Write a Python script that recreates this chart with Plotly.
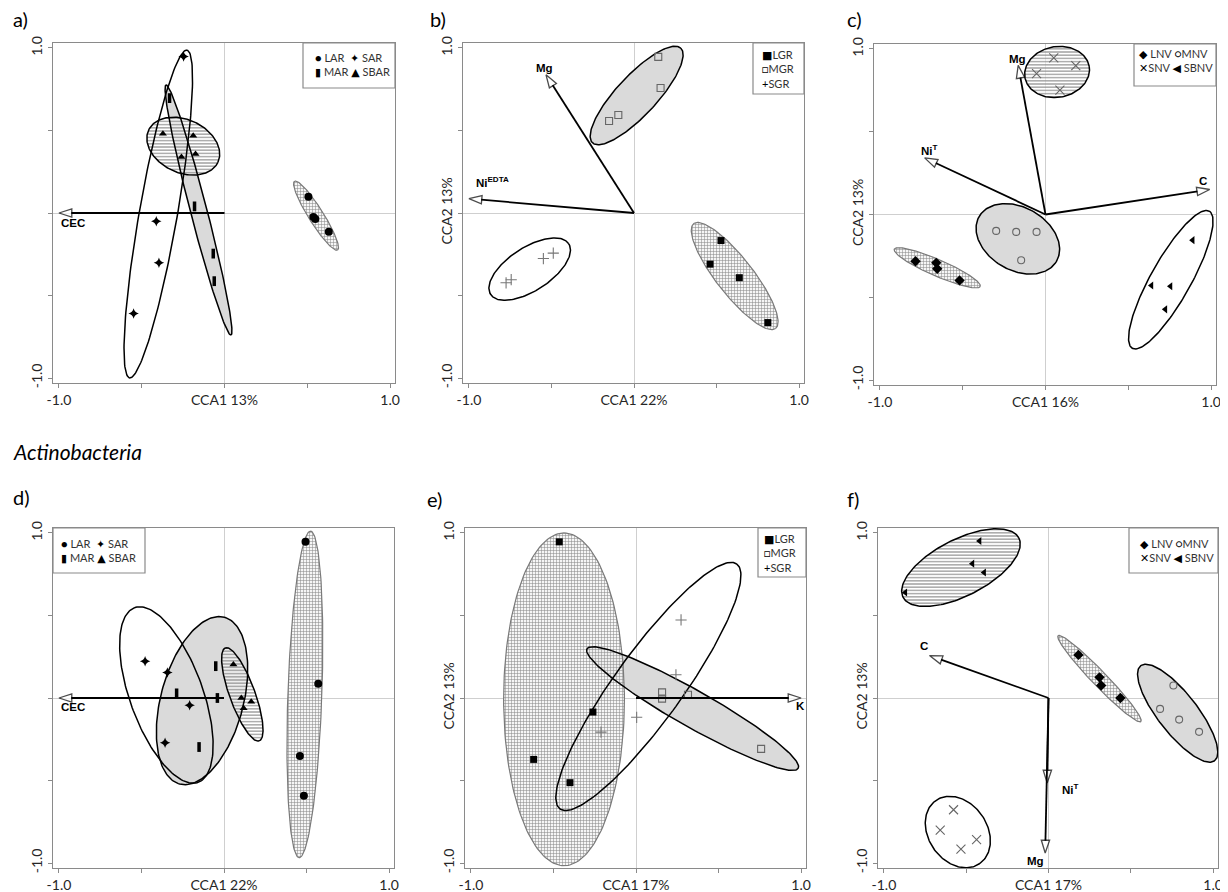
import numpy as np
import plotly.graph_objects as go

# the page body keeps an 8px margin, so the figure is drawn 8px smaller and
# every pixel position below is measured in the 1228x892 window
OFF = 8
W, H = 1228 - OFF, 892 - OFF

# ---------------- data (CCA scores) ----------------
# a)
a_LAR_x = [0.507, 0.537, 0.549, 0.630];   a_LAR_y = [0.099, -0.024, -0.036, -0.113]
a_MAR_x = [-0.332, -0.181, -0.068, -0.062]; a_MAR_y = [0.696, 0.040, -0.246, -0.413]
a_SAR_x = [-0.247, -0.412, -0.396, -0.549]; a_SAR_y = [0.948, -0.050, -0.302, -0.609]
a_SBAR_x = [-0.372, -0.189, -0.260, -0.175]; a_SBAR_y = [0.480, 0.468, 0.339, 0.357]
# ellipses: centre x, centre y, semi-major, semi-minor, angle (deg)
a_LAR_ell = [0.553, -0.016, 0.246, 0.045, -58]
a_MAR_ell = [-0.157, 0.018, 0.783, 0.050, -75.5]
a_SAR_ell = [-0.400, -0.006, 1.008, 0.115, 80.1]
a_SBAR_ell = [-0.249, 0.405, 0.231, 0.161, -25]
a_vec_names = ["CEC"]; a_vec_x = [-1.0]; a_vec_y = [0.0]
a_lab_x = [-0.916]; a_lab_y = [-0.062]

# b)
b_LGR_x = [0.527, 0.461, 0.638, 0.811];   b_LGR_y = [-0.167, -0.310, -0.392, -0.664]
b_MGR_x = [0.147, 0.161, -0.151, -0.095]; b_MGR_y = [0.946, 0.757, 0.557, 0.594]
b_SGR_x = [-0.775, -0.744, -0.549, -0.489]; b_SGR_y = [-0.423, -0.404, -0.276, -0.243]
b_LGR_ell = [0.610, -0.382, 0.403, 0.111, -52]
b_MGR_ell = [0.016, 0.712, 0.392, 0.121, 47]
b_SGR_ell = [-0.632, -0.340, 0.282, 0.131, 33]
b_vec_names = ["Mg", "Ni<sup>EDTA</sup>"]; b_vec_x = [-0.533, -1.0]; b_vec_y = [0.837, 0.087]
b_lab_x = [-0.541, -0.860]; b_lab_y = [0.881, 0.185]

# c)
c_LNV_x = [-0.785, -0.660, -0.654, -0.519]; c_LNV_y = [-0.282, -0.292, -0.328, -0.398]
c_MNV_x = [-0.298, -0.177, -0.054, -0.147]; c_MNV_y = [-0.099, -0.105, -0.105, -0.276]
c_SNV_x = [0.050, 0.183, -0.054, 0.087];    c_SNV_y = [0.946, 0.899, 0.851, 0.751]
c_SBNV_x = [0.889, 0.640, 0.755, 0.724];    c_SBNV_y = [-0.155, -0.429, -0.433, -0.573]
c_LNV_ell = [-0.654, -0.322, 0.283, 0.050, -23.5]
c_MNV_ell = [-0.167, -0.147, 0.270, 0.190, -30]
c_SNV_ell = [0.070, 0.861, 0.197, 0.153, 10]
c_SBNV_ell = [0.757, -0.394, 0.475, 0.121, 60.7]
c_vec_names = ["Mg", "Ni<sup>T</sup>", "C"]
c_vec_x = [-0.165, -0.730, 0.992]; c_vec_y = [0.901, 0.342, 0.151]
c_lab_x = [-0.169, -0.700, 0.950]; c_lab_y = [0.942, 0.392, 0.203]

# d)
d_LAR_x = [0.494, 0.571, 0.460, 0.484];   d_LAR_y = [0.947, 0.086, -0.352, -0.593]
d_MAR_x = [-0.050, -0.287, -0.040, -0.151]; d_MAR_y = [0.193, 0.028, 0.0, -0.297]
d_SAR_x = [-0.478, -0.343, -0.208, -0.357]; d_SAR_y = [0.223, 0.155, -0.044, -0.271]
d_SBAR_x = [0.057, 0.105, 0.165, 0.119];    d_SBAR_y = [0.203, 0.0, -0.022, -0.062]
d_LAR_ell = [0.490, 0.022, 0.990, 0.103, 88]
d_MAR_ell = [-0.133, -0.016, 0.523, 0.250, 75]
d_SAR_ell = [-0.349, 0.018, 0.563, 0.221, 110]
d_SBAR_ell = [0.111, 0.022, 0.300, 0.077, 110]
d_vec_names = ["CEC"]; d_vec_x = [-1.0]; d_vec_y = [0.0]
d_lab_x = [-0.916]; d_lab_y = [-0.055]

# e)
e_LGR_x = [-0.465, -0.261, -0.620, -0.400]; e_LGR_y = [0.946, -0.085, -0.372, -0.513]
e_MGR_x = [0.158, 0.158, 0.315, 0.758];     e_MGR_y = [0.034, -0.004, 0.020, -0.308]
e_SGR_x = [0.273, 0.242, 0.004, -0.212];    e_SGR_y = [0.473, 0.141, -0.117, -0.207]
e_LGR_ell = [-0.436, -0.008, 1.008, 0.366, 90]
e_MGR_ell = [0.343, -0.064, 0.735, 0.111, -29.5]
e_SGR_ell = [0.075, 0.070, 0.915, 0.206, 54.2]
e_vec_names = ["K"]; e_vec_x = [1.0]; e_vec_y = [0.0]
e_lab_x = [0.995]; e_lab_y = [-0.05]

# f)
f_LNV_x = [0.182, 0.310, 0.320, 0.437];    f_LNV_y = [0.261, 0.125, 0.076, 0.0]
f_MNV_x = [0.759, 0.678, 0.794, 0.915];    f_MNV_y = [0.076, -0.066, -0.131, -0.205]
f_SNV_x = [-0.577, -0.658, -0.437, -0.532]; f_SNV_y = [-0.677, -0.800, -0.858, -0.915]
f_SBNV_x = [-0.419, -0.462, -0.391, -0.870]; f_SBNV_y = [0.951, 0.814, 0.760, 0.639]
f_LNV_ell = [0.310, 0.117, 0.362, 0.045, -46]
f_MNV_ell = [0.785, -0.092, 0.365, 0.120, -52]
f_SNV_ell = [-0.551, -0.812, 0.233, 0.178, -55]
f_SBNV_ell = [-0.532, 0.790, 0.395, 0.171, 27]
f_vec_names = ["C", "Ni<sup>T</sup>", "Mg"]
f_vec_x = [-0.723, -0.008, -0.020]; f_vec_y = [0.257, -0.515, -0.939]
f_lab_x = [-0.757, 0.135, -0.081]; f_lab_y = [0.314, -0.553, -0.985]

axis_pct_x = ["CCA1 13%", "CCA1 22%", "CCA1 16%", "CCA1 22%", "CCA1 17%", "CCA1 17%"]
axis_pct_y = ["", "CCA2 13%", "CCA2 13%", "", "CCA2 13%", "CCA2 13%"]
panel_tags = ["a)", "b)", "c)", "d)", "e)", "f)"]

# ---------------- styles ----------------
MARK = {
    "LAR": dict(symbol="circle", size=8, color="black", line=dict(width=0)),
    "MAR": dict(symbol="line-ns-open", size=7, color="black", line=dict(width=3.5, color="black")),
    "SAR": dict(symbol="star-diamond", size=7.5, color="black", line=dict(width=0)),
    "SBAR": dict(symbol="triangle-up", size=7, color="black", line=dict(width=0)),
    "LGR": dict(symbol="square", size=7, color="black", line=dict(width=0)),
    "MGR": dict(symbol="square-open", size=7, color="#666666", line=dict(width=1.1)),
    "SGR": dict(symbol="cross-thin-open", size=8, color="#777777", line=dict(width=1.1)),
    "LNV": dict(symbol="diamond", size=8, color="black", line=dict(width=0)),
    "MNV": dict(symbol="circle-open", size=7, color="#666666", line=dict(width=1.1)),
    "SNV": dict(symbol="x-thin-open", size=9, color="#666666", line=dict(width=1.1)),
    "SBNV": dict(symbol="triangle-left", size=7, color="black", line=dict(width=0)),
}

FILL = {"solid": 0, "grid": 1, "hlines": 2, "none": 3}

# panel definitions: groups (name, x, y, ellipse, style)
panels = [
    [("LAR", a_LAR_x, a_LAR_y, a_LAR_ell, "grid"), ("MAR", a_MAR_x, a_MAR_y, a_MAR_ell, "solid"),
     ("SAR", a_SAR_x, a_SAR_y, a_SAR_ell, "none"), ("SBAR", a_SBAR_x, a_SBAR_y, a_SBAR_ell, "hlines")],
    [("LGR", b_LGR_x, b_LGR_y, b_LGR_ell, "grid"), ("MGR", b_MGR_x, b_MGR_y, b_MGR_ell, "solid"),
     ("SGR", b_SGR_x, b_SGR_y, b_SGR_ell, "none")],
    [("LNV", c_LNV_x, c_LNV_y, c_LNV_ell, "grid"), ("MNV", c_MNV_x, c_MNV_y, c_MNV_ell, "solid"),
     ("SNV", c_SNV_x, c_SNV_y, c_SNV_ell, "hlines"), ("SBNV", c_SBNV_x, c_SBNV_y, c_SBNV_ell, "none")],
    [("LAR", d_LAR_x, d_LAR_y, d_LAR_ell, "grid"), ("MAR", d_MAR_x, d_MAR_y, d_MAR_ell, "solid"),
     ("SAR", d_SAR_x, d_SAR_y, d_SAR_ell, "none"), ("SBAR", d_SBAR_x, d_SBAR_y, d_SBAR_ell, "hlines")],
    [("LGR", e_LGR_x, e_LGR_y, e_LGR_ell, "grid"), ("MGR", e_MGR_x, e_MGR_y, e_MGR_ell, "solid"),
     ("SGR", e_SGR_x, e_SGR_y, e_SGR_ell, "none")],
    [("LNV", f_LNV_x, f_LNV_y, f_LNV_ell, "grid"), ("MNV", f_MNV_x, f_MNV_y, f_MNV_ell, "solid"),
     ("SNV", f_SNV_x, f_SNV_y, f_SNV_ell, "none"), ("SBNV", f_SBNV_x, f_SBNV_y, f_SBNV_ell, "hlines")],
]
vectors = [
    (a_vec_names, a_vec_x, a_vec_y, a_lab_x, a_lab_y),
    (b_vec_names, b_vec_x, b_vec_y, b_lab_x, b_lab_y),
    (c_vec_names, c_vec_x, c_vec_y, c_lab_x, c_lab_y),
    (d_vec_names, d_vec_x, d_vec_y, d_lab_x, d_lab_y),
    (e_vec_names, e_vec_x, e_vec_y, e_lab_x, e_lab_y),
    (f_vec_names, f_vec_x, f_vec_y, f_lab_x, f_lab_y),
]
K_ = "<span style='color:black'>"
legend_text = [
    f"{K_}●</span> LAR  {K_}✦</span> SAR<br>{K_}▮</span> MAR {K_}▲</span> SBAR",
    f"{K_}■</span>LGR<br>{K_}□</span>MGR<br>{K_}+</span>SGR",
    f"{K_}◆</span> LNV {K_}○</span>MNV<br>{K_}✕</span>SNV {K_}◀</span> SBNV",
]
legend_text = legend_text * 2

# layout geometry (window pixels): frame boxes, legend boxes
frames = [(53, 43, 395, 383), (463, 43, 804, 383), (874, 44, 1216, 385),
          (53, 528, 394, 868), (465, 528, 806, 868), (878, 528, 1218, 868)]
legend_boxes = [(303, 43, 395, 88), (753, 43, 804, 94), (1134, 44, 1216, 86),
                (53, 528, 145, 573), (758, 528, 806, 577), (1129, 528, 1218, 573)]
legend_anchor = [(313, 65), (760, 69.5), (1137, 60.5), (59, 550), (762, 553), (1138, 550)]
tag_pos = [(11, 19), (428, 19), (845, 19), (11, 497), (425, 499), (845, 499)]


def px(v):
    return (v - OFF) / W


def py(v):
    return 1 - (v - OFF) / H


XR = [-1.036, 1.03]
YR = [-1.03, 1.03]

TICKFONT = dict(family="Lato, Carlito, sans-serif", size=14, color="#262626")
LABFONT = dict(family="Liberation Sans, Arial, sans-serif", size=11.5, color="black")


def ellipse_xy(p):
    cx, cy, a, b, ang = p
    t = np.linspace(0, 2 * np.pi, 181)
    c, s = np.cos(np.radians(ang)), np.sin(np.radians(ang))
    x = cx + a * np.cos(t) * c - b * np.sin(t) * s
    y = cy + a * np.cos(t) * s + b * np.sin(t) * c
    return x, y


fig = go.Figure()
layout = dict(width=W, height=H, margin=dict(l=0, r=0, t=0, b=0, pad=0, autoexpand=False),
              paper_bgcolor="white", plot_bgcolor="white", showlegend=False,
              template="none")
shapes, annotations = [], []

for i, groups in enumerate(panels):
    k = i + 1
    xa = "x" if k == 1 else f"x{k}"
    ya = "y" if k == 1 else f"y{k}"
    l, t, r, b = frames[i]
    common = dict(showgrid=False, zeroline=True, zerolinecolor="#cfcfcf",
                  zerolinewidth=1, showline=True, mirror=True, linecolor="#8a8a8a",
                  linewidth=1.3, ticks="outside", ticklen=4, tickcolor="#8a8a8a",
                  tickwidth=1, tickfont=TICKFONT, fixedrange=True, automargin=False,
                  tickmode="array", tickvals=[-1, -0.5, 0, 0.5, 1])
    layout["xaxis" if k == 1 else f"xaxis{k}"] = dict(
        common, range=XR, domain=[px(l), px(r)], anchor=ya,
        ticktext=["-1.0", "", axis_pct_x[i], "", "1.0"])
    layout["yaxis" if k == 1 else f"yaxis{k}"] = dict(
        common, range=YR, domain=[py(b), py(t)], anchor=xa, tickangle=-90,
        ticktext=["-1.0", "", axis_pct_y[i], "", "1.0"])

    # ellipse fills
    for name, gx, gy, ell, style in sorted(groups, key=lambda g: FILL[g[4]]):
        ex, ey = ellipse_xy(ell)
        if style == "solid":
            fig.add_trace(go.Scatter(x=ex, y=ey, xaxis=xa, yaxis=ya, mode="none", fill="toself",
                                     fillcolor="#dadada", hoverinfo="skip"))
        elif style == "grid":
            fig.add_trace(go.Scatter(x=ex, y=ey, xaxis=xa, yaxis=ya, mode="none", fill="toself",
                                     fillcolor="rgba(0,0,0,0)",
                                     fillpattern=dict(shape="+", size=3, solidity=0.33,
                                                      fgcolor="#8c8c8c",
                                                      bgcolor="rgba(242,242,242,0.75)"),
                                     hoverinfo="skip"))
        elif style == "hlines":
            fig.add_trace(go.Scatter(x=ex, y=ey, xaxis=xa, yaxis=ya, mode="none", fill="toself",
                                     fillcolor="rgba(0,0,0,0)",
                                     fillpattern=dict(shape="-", size=3.2, solidity=0.35,
                                                      fgcolor="#8a8a8a",
                                                      bgcolor="rgba(255,255,255,0.55)"),
                                     hoverinfo="skip"))
    # ellipse outlines
    for name, gx, gy, ell, style in groups:
        ex, ey = ellipse_xy(ell)
        lc, lw = ("#7a7a7a", 1.2) if style == "grid" else ("black", 1.5)
        fig.add_trace(go.Scatter(x=ex, y=ey, xaxis=xa, yaxis=ya, mode="lines",
                                 line=dict(color=lc, width=lw), hoverinfo="skip"))
    # points
    for name, gx, gy, ell, style in groups:
        fig.add_trace(go.Scatter(x=gx, y=gy, xaxis=xa, yaxis=ya, mode="markers",
                                 marker=MARK[name], name=name))
    # environmental vectors
    names, vx, vy, lx, ly = vectors[i]
    for n, x1, y1, tx, ty in zip(names, vx, vy, lx, ly):
        fig.add_trace(go.Scatter(x=[0, x1], y=[0, y1], xaxis=xa, yaxis=ya, mode="lines+markers",
                                 line=dict(color="black", width=1.8),
                                 marker=dict(symbol="arrow", size=[0, 13.5], angleref="previous",
                                             color="white",
                                             line=dict(color="black", width=[0, 1.3])),
                                 hoverinfo="skip"))
        annotations.append(dict(x=tx, y=ty, xref=xa, yref=ya, text=f"<b>{n}</b>",
                                showarrow=False, font=LABFONT))

    # legend box + text
    bl, bt, br, bb = legend_boxes[i]
    shapes.append(dict(type="rect", xref="paper", yref="paper", x0=px(bl), x1=px(br),
                       y0=py(bb), y1=py(bt), line=dict(color="#8a8a8a", width=1.2),
                       fillcolor="white", layer="above"))
    ax_, ay_ = legend_anchor[i]
    annotations.append(dict(x=px(ax_), y=py(ay_), xref="paper", yref="paper",
                            xanchor="left", yanchor="middle", align="left", showarrow=False,
                            text=legend_text[i],
                            font=dict(family="Lato, DejaVu Sans, sans-serif", size=11,
                                      color="#333333")))
    # panel tag
    tx_, ty_ = tag_pos[i]
    annotations.append(dict(x=px(tx_), y=py(ty_), xref="paper", yref="paper",
                            xanchor="left", yanchor="middle", showarrow=False,
                            text=panel_tags[i],
                            font=dict(family="Lato, Carlito, sans-serif", size=20, color="black")))

annotations.append(dict(x=px(11), y=py(451), xref="paper", yref="paper", xanchor="left",
                        yanchor="middle", showarrow=False, text="<i>Actinobacteria</i>",
                        font=dict(family="Lato, Carlito, sans-serif", size=21, color="black")))

layout["shapes"] = shapes
layout["annotations"] = annotations
fig.update_layout(**layout)
fig.write_html("out.html")
